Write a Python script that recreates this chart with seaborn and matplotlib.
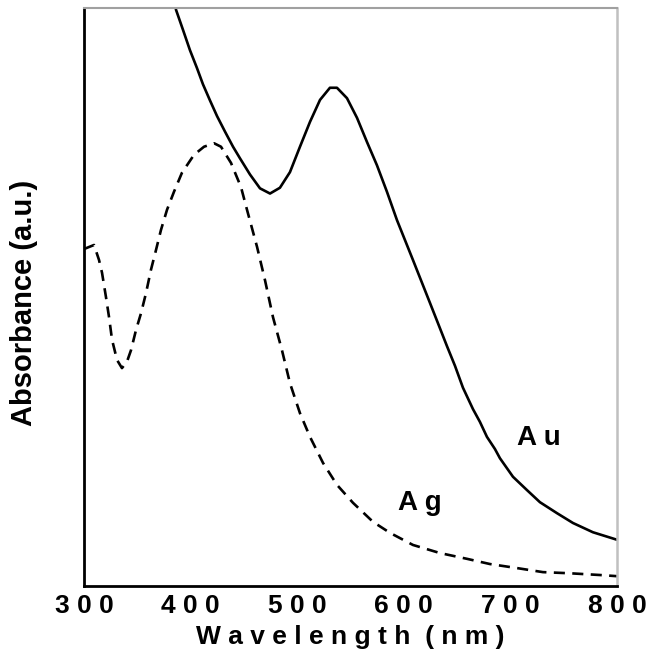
import pandas as pd
import seaborn as sns
import matplotlib.pyplot as plt
from matplotlib.ticker import MultipleLocator

# Au spectrum (wavelength nm, absorbance a.u.)
au_wavelength = [382, 386.3, 392.9, 399.4, 406.0, 411.6, 418.2, 424.8, 432.3, 439.8,
                 446.3, 455.7, 465.1, 474.5, 483.8, 493.2, 502.6, 512.0, 521.4, 530.7,
                 537.3, 546.7, 556.1, 565.5, 574.8, 584.2, 593.6, 608.6, 624.5, 633.9,
                 640.5, 648.0, 655.5, 664.9, 671.4, 678.0, 685.5, 690.2, 702.4, 715.5,
                 727.7, 743.7, 758.7, 777.4, 800.0]
au_absorbance = [1.06, 0.997, 0.962, 0.927, 0.896, 0.868, 0.840, 0.813, 0.786, 0.760,
                 0.740, 0.712, 0.688, 0.679, 0.689, 0.716, 0.760, 0.803, 0.841, 0.862,
                 0.862, 0.844, 0.810, 0.768, 0.728, 0.682, 0.633, 0.564, 0.490, 0.446,
                 0.415, 0.381, 0.343, 0.306, 0.284, 0.258, 0.237, 0.221, 0.189, 0.166,
                 0.145, 0.126, 0.109, 0.093, 0.080]

# Ag spectrum
ag_wavelength = [300.0, 309.4, 314.1, 316.9, 320.6, 323.5, 326.3, 331.0, 335.6, 340.3,
                 344.1, 348.8, 353.5, 358.2, 362.8, 367.5, 372.2, 377.9, 384.4, 391.9,
                 403.2, 412.6, 422.0, 428.5, 437.9, 447.3, 452.9, 457.6, 462.3, 469.8,
                 477.3, 485.7, 493.2, 502.6, 512.0, 524.2, 537.3, 552.3, 571.1, 587.0,
                 608.6, 633.9, 659.3, 680.8, 706.2, 730.5, 755.9, 784.0, 800.0]
ag_absorbance = [0.583, 0.590, 0.564, 0.542, 0.500, 0.465, 0.426, 0.391, 0.377, 0.388,
                 0.408, 0.443, 0.472, 0.507, 0.547, 0.581, 0.616, 0.651, 0.682, 0.715,
                 0.746, 0.760, 0.766, 0.760, 0.732, 0.690, 0.651, 0.619, 0.587, 0.529,
                 0.465, 0.408, 0.351, 0.299, 0.258, 0.213, 0.175, 0.144, 0.111, 0.092,
                 0.071, 0.057, 0.047, 0.038, 0.031, 0.024, 0.022, 0.019, 0.017]

x_ticks = [300, 400, 500, 600, 700, 800]
x_tick_labels = [" ".join(str(t)) for t in x_ticks]

sns.set_style("white")
plt.rcParams['font.family'] = ['Liberation Sans', 'DejaVu Sans']
plt.rcParams['font.weight'] = 'bold'
plt.rcParams['text.color'] = 'black'
plt.rcParams['axes.labelcolor'] = 'black'
plt.rcParams['xtick.color'] = 'black'

au = pd.DataFrame({"wavelength": au_wavelength, "absorbance": au_absorbance})
ag = pd.DataFrame({"wavelength": ag_wavelength, "absorbance": ag_absorbance})

fig = plt.figure(figsize=(6.51, 6.65), dpi=100)
ax = fig.add_axes([84 / 651, 1 - 586 / 665, 533 / 651, 578 / 665])

sns.lineplot(data=au, x="wavelength", y="absorbance", ax=ax, color="black",
             linewidth=1.9, sort=False)
sns.lineplot(data=ag, x="wavelength", y="absorbance", ax=ax, color="black",
             linewidth=1.9, linestyle=(0, (4.2, 2.8)), sort=False)

ax.set_xlim(300, 800)
ax.set_ylim(0, 1.0)
ax.set_xticks(x_ticks)
ax.set_xticklabels(x_tick_labels)
ax.xaxis.set_minor_locator(MultipleLocator(50))
ax.set_yticks([])
ax.tick_params(axis="x", which="major", direction="in", length=8, width=1.6,
               labelsize=19, pad=6, color="black", labelcolor="black")
ax.tick_params(axis="x", which="minor", direction="in", length=4, width=1.6,
               color="black")

for side in ["left", "bottom"]:
    ax.spines[side].set_color("black")
    ax.spines[side].set_linewidth(2)
ax.spines["top"].set_color("#a0a0a0")
ax.spines["top"].set_linewidth(1.5)
ax.spines["right"].set_color("#c0c0c0")
ax.spines["right"].set_linewidth(1.8)

ax.set_xlabel("W a v e l e n g t h  ( n m )", fontsize=19, fontweight="bold")
ax.set_ylabel("Absorbance (a.u.)", fontsize=21, fontweight="bold")
ax.xaxis.set_label_coords(0.5, -0.068)
ax.yaxis.set_label_coords(-0.086, 0.49)
ax.xaxis.label.set_va("top")

ax.text(706, 0.244, "A u", fontsize=20, fontweight="bold", ha="left", va="baseline")
ax.text(594.5, 0.131, "A g", fontsize=20, fontweight="bold", ha="left", va="baseline")

fig.savefig("out.png", dpi=100)
